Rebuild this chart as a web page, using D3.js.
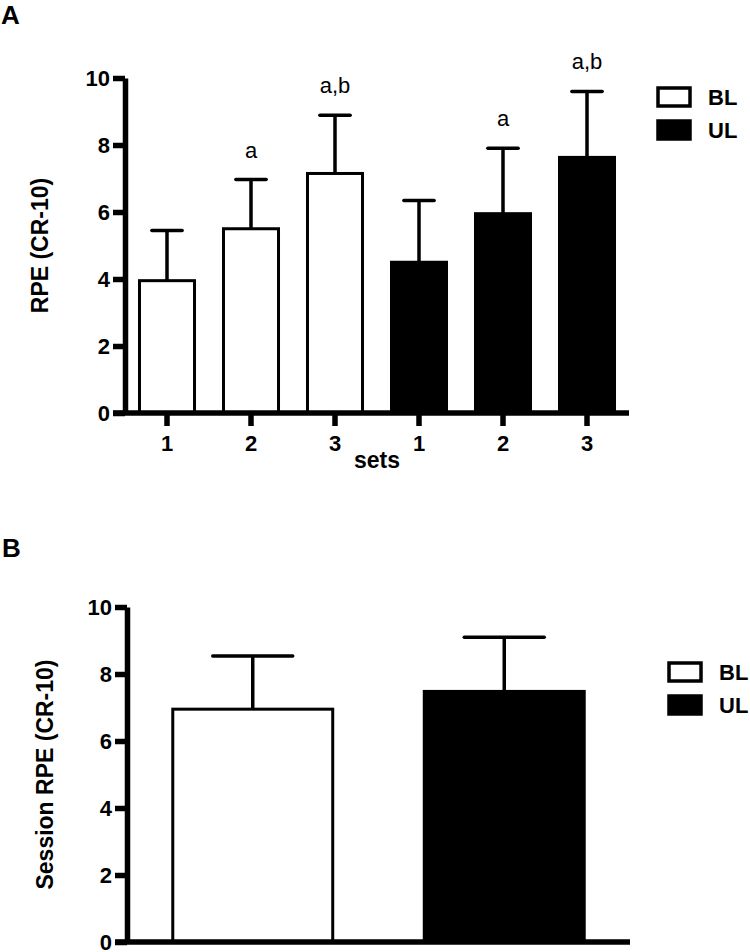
<!DOCTYPE html>
<html>
<head>
<meta charset="utf-8">
<script src="https://cdn.jsdelivr.net/npm/d3@7"></script>
<style>
  html, body { margin: 0; padding: 0; background: #fff; }
  svg { display: block; }
  text { font-family: "Liberation Sans", Arial, sans-serif; fill: #000; }
</style>
</head>
<body>
<svg id="chart" width="750" height="952"></svg>
<script>
// ---------- data ----------
const sets = ["1", "2", "3"];
const groups = ["BL", "UL"];
const meanBL = [3.95, 5.5, 7.15];
const sdBL = [1.5, 1.47, 1.74];
const meanUL = [4.5, 5.95, 7.63];
const sdUL = [1.84, 1.95, 1.97];
const annotBL = ["", "a", "a,b"];
const annotUL = ["", "a", "a,b"];
const sessionMean = [6.95, 7.48];
const sessionSD = [1.59, 1.62];
const yTicks = [0, 2, 4, 6, 8, 10];

const svg = d3.select("#chart");
const fills = { BL: "#fff", UL: "#000" };

function styleTickText(sel) {
  sel.style("font-size", "22px").style("font-weight", "bold")
    .style("font-family", "'Liberation Sans', Arial, sans-serif").style("fill", "#000");
}

// ---------- helpers ----------
function drawYAxis(g, y, x0, title, titleX) {
  const ax = g.append("g").attr("transform", `translate(${x0},0)`)
    .call(d3.axisLeft(y).tickValues(yTicks).tickSize(12).tickSizeOuter(0).tickPadding(3));
  ax.select(".domain").attr("stroke", "#000").attr("stroke-width", 5.5);
  ax.selectAll(".tick line").attr("stroke", "#000").attr("stroke-width", 5.5);
  styleTickText(ax.selectAll(".tick text"));
  const [r0, r1] = y.range();
  g.append("text")
    .attr("transform", `translate(${titleX},${(r0 + r1) / 2}) rotate(-90)`)
    .attr("text-anchor", "middle")
    .style("font-size", "23px").style("font-weight", "bold")
    .text(title);
}

function drawLegend(g, x0, y0) {
  groups.forEach((k, i) => {
    g.append("rect")
      .attr("x", x0).attr("y", y0 + i * 33)
      .attr("width", 32).attr("height", 18)
      .attr("fill", fills[k]).attr("stroke", "#000").attr("stroke-width", 3.5);
    g.append("text")
      .attr("x", x0 + 50).attr("y", y0 + i * 33 + 17)
      .style("font-size", "22px").style("font-weight", "bold")
      .text(k);
  });
}

function drawBars(g, data, x, y, capFrac) {
  const bw = x.bandwidth();
  const bars = g.selectAll(".bar").data(data).join("g");
  bars.append("line")
    .attr("x1", d => x(d.key) + bw / 2).attr("x2", d => x(d.key) + bw / 2)
    .attr("y1", d => y(d.mean)).attr("y2", d => y(d.mean + d.sd))
    .attr("stroke", "#000").attr("stroke-width", 3.5);
  bars.append("line")
    .attr("x1", d => x(d.key) + bw / 2 - bw * capFrac / 2)
    .attr("x2", d => x(d.key) + bw / 2 + bw * capFrac / 2)
    .attr("y1", d => y(d.mean + d.sd)).attr("y2", d => y(d.mean + d.sd))
    .attr("stroke", "#000").attr("stroke-width", 3.5).attr("stroke-linecap", "round");
  bars.append("rect")
    .attr("x", d => x(d.key)).attr("width", bw)
    .attr("y", d => y(d.mean)).attr("height", d => y(0) - y(d.mean))
    .attr("fill", d => fills[d.group]).attr("stroke", "#000").attr("stroke-width", 3);
  bars.filter(d => d.annot).append("text")
    .attr("x", d => x(d.key) + bw / 2)
    .attr("y", d => y(d.mean + d.sd) - 22)
    .attr("text-anchor", "middle").style("font-size", "22px")
    .text(d => d.annot);
}

// ---------- Panel A ----------
{
  const g = svg.append("g");
  const dataA = [];
  sets.forEach((s, i) => dataA.push({ key: "BL-" + s, set: s, group: "BL", mean: meanBL[i], sd: sdBL[i], annot: annotBL[i] }));
  sets.forEach((s, i) => dataA.push({ key: "UL-" + s, set: s, group: "UL", mean: meanUL[i], sd: sdUL[i], annot: annotUL[i] }));

  const y = d3.scaleLinear().domain([0, 10]).range([413, 78]);
  const x = d3.scaleBand().domain(dataA.map(d => d.key)).range([125, 629])
    .paddingInner(0.345).paddingOuter(0.1725);

  drawBars(g, dataA, x, y, 0.55);

  const xa = g.append("g").attr("transform", `translate(0,${y(0)})`)
    .call(d3.axisBottom(x).tickSize(13).tickSizeOuter(0).tickPadding(9)
      .tickFormat(k => k.split("-")[1]));
  xa.select(".domain").remove();
  xa.selectAll(".tick line").attr("stroke", "#000").attr("stroke-width", 5.5);
  styleTickText(xa.selectAll(".tick text"));
  g.append("line")
    .attr("x1", 125 - 12).attr("x2", x.range()[1])
    .attr("y1", y(0)).attr("y2", y(0))
    .attr("stroke", "#000").attr("stroke-width", 5.5);

  drawYAxis(g, y, 125, "RPE (CR-10)", 48);

  g.append("text").attr("x", (x.range()[0] + x.range()[1]) / 2).attr("y", 468)
    .attr("text-anchor", "middle").style("font-size", "23px").style("font-weight", "bold")
    .text("sets");

  drawLegend(g, 658, 88);

  svg.append("text").attr("x", 1).attr("y", 24)
    .style("font-size", "26px").style("font-weight", "bold").text("A");
}

// ---------- Panel B ----------
{
  const g = svg.append("g");
  const dataB = groups.map((k, i) => ({ key: k, group: k, mean: sessionMean[i], sd: sessionSD[i], annot: "" }));
  const y = d3.scaleLinear().domain([0, 10]).range([942, 607]);
  const x = d3.scaleBand().domain(groups).range([127, 630])
    .paddingInner(0.364).paddingOuter(0.182);

  drawBars(g, dataB, x, y, 0.5);

  g.append("line")
    .attr("x1", 127 - 12).attr("x2", x.range()[1])
    .attr("y1", y(0)).attr("y2", y(0))
    .attr("stroke", "#000").attr("stroke-width", 5.5);

  drawYAxis(g, y, 127, "Session RPE (CR-10)", 53);

  drawLegend(g, 669, 663);

  svg.append("text").attr("x", 2).attr("y", 557)
    .style("font-size", "26px").style("font-weight", "bold").text("B");
}
</script>
</body>
</html>
